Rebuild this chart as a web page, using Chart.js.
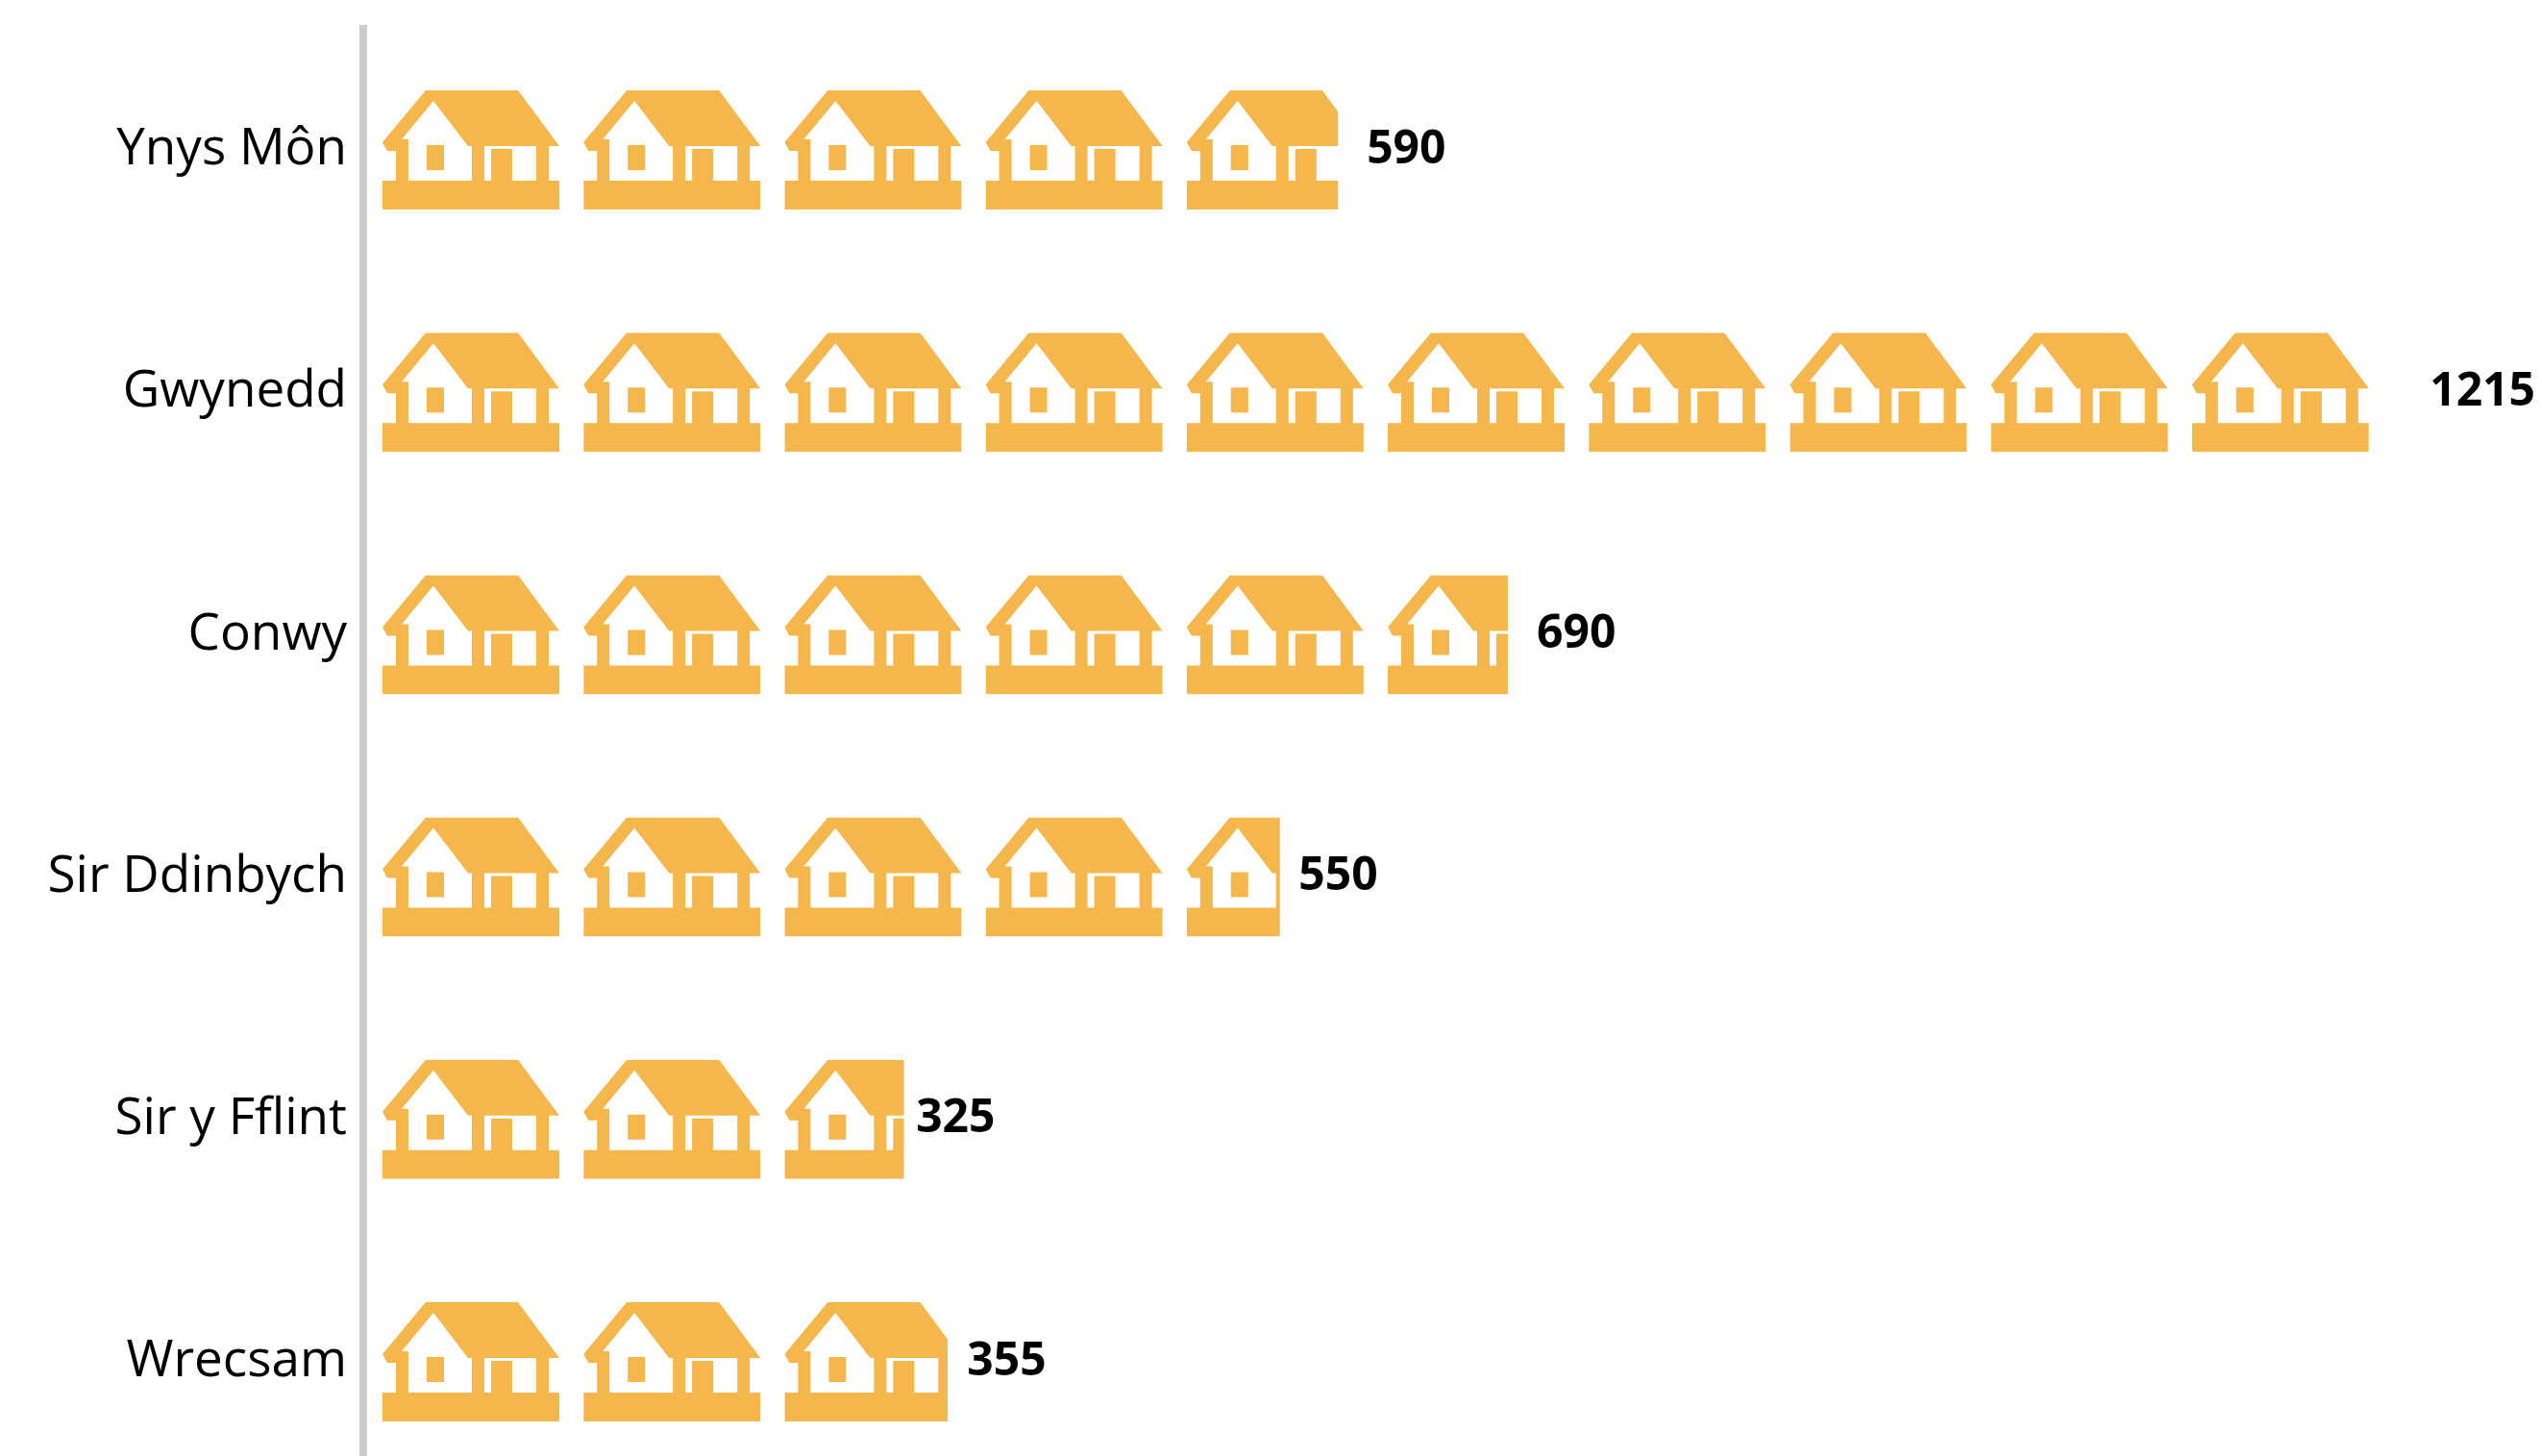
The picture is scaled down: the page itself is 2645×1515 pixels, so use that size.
<!DOCTYPE html>
<html>
<head>
<meta charset="utf-8">
<script src="https://cdn.jsdelivr.net/npm/chart.js@4"></script>
<style>
  html, body { margin: 0; padding: 0; width: 2645px; height: 1515px; overflow: hidden; background: #fff; }
  #wrap { width: 2645px; height: 1543px; }
</style>
</head>
<body>
<div id="wrap"><canvas id="myChart"></canvas></div>
<script>
const categories = ["Ynys Môn", "Gwynedd", "Conwy", "Sir Ddinbych", "Sir y Fflint", "Wrecsam"];
const values = [590, 1215, 690, 550, 325, 355];

const unit = Math.max(...values) / 10; // one house
const houseColor = "#F5B64B";
const iconW = 184, iconH = 124;

// house glyph, local px
const house = new Path2D(
  "M45 0H141L184 58H173V94H184V124H0V94H14V63H5L0 54Z" +
  "M53 11L89 58H93V94H27V51H20Z" +
  "M46 57V83H64V57Z" +
  "M106 58H160V94H135V61H113V94H106Z"
);

const housesPlugin = {
  id: "houses",
  afterDatasetsDraw(chart) {
    const ctx = chart.ctx;
    const x = chart.scales.x;
    const pitch = x.getPixelForValue(unit) - x.getPixelForValue(0);

    chart.getDatasetMeta(0).data.forEach(bar => {
      const count = (bar.x - bar.base) / pitch;
      const top = bar.y - iconH / 2;
      const whole = Math.floor(count);
      const frac = count - whole;

      ctx.save();
      ctx.fillStyle = houseColor;
      for (let i = 0; i <= whole; i++) {
        const w = i < whole ? iconW + 1 : iconW * frac;
        if (w <= 0) continue;
        ctx.save();
        ctx.translate(bar.base + i * pitch, top);
        ctx.beginPath();
        ctx.rect(0, 0, w, iconH);
        ctx.clip();
        ctx.fill(house, "evenodd");
        ctx.restore();
      }
      ctx.restore();
    });

    // value labels sit at the end of the second dataset's bars
    ctx.save();
    ctx.fillStyle = "#000";
    ctx.font = "bold 48px 'Open Sans'";
    ctx.textAlign = "left";
    ctx.textBaseline = "middle";
    chart.getDatasetMeta(1).data.forEach((bar, i) => {
      ctx.fillText(values[i], bar.x, bar.y);
    });
    ctx.restore();
  }
};

new Chart("myChart", {
  type: "bar",
  data: {
    labels: categories,
    datasets: [
      { data: values, xAxisID: "x", backgroundColor: "transparent", barThickness: iconH },
      { data: values, xAxisID: "xl", backgroundColor: "transparent", barThickness: iconH }
    ]
  },
  plugins: [housesPlugin],
  options: {
    indexAxis: "y",
    responsive: true,
    maintainAspectRatio: false,
    animation: false,
    layout: { padding: { top: 30 } },
    plugins: { legend: { display: false }, tooltip: { enabled: false } },
    datasets: { bar: { grouped: false } },
    scales: {
      x: { display: false, min: -11.6, max: 1305 },
      xl: { display: false, min: 0, max: 1281 },
      y: {
        afterFit(scale) {
          scale.width = 378;
          scale.paddingTop = 0;
          scale.paddingBottom = 0;
        },
        grid: { display: false, drawTicks: false },
        border: { display: true, color: "#CCCCCC", width: 8 },
        ticks: { color: "#000", padding: 17, font: { family: "'Open Sans'", size: 53 } }
      }
    }
  }
});
</script>
</body>
</html>
